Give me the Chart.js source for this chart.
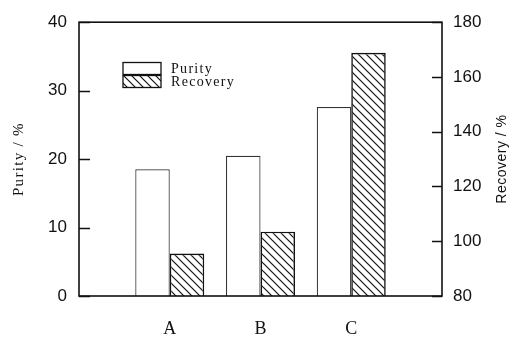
<!DOCTYPE html>
<html>
<head>
<meta charset="utf-8">
<script src="https://cdn.jsdelivr.net/npm/chart.js@4/dist/chart.umd.min.js"></script>
<style>
  html, body { margin: 0; padding: 0; background: #fff; }
  #wrap { width: 522px; height: 338px; }
</style>
</head>
<body>
<div id="wrap"><canvas id="c" width="522" height="338"></canvas></div>
<script>
// Samples and measured values
const categories = ['A', 'B', 'C'];
const purity = [18.5, 20.5, 27.6];      // Purity / %
const recovery = [95.5, 103.5, 168.8];  // Recovery / %
const purityTicks = [0, 10, 20, 30, 40];
const recoveryTicks = [80, 100, 120, 140, 160, 180];

const INK = '#111';
const SERIF = '"Liberation Serif", "Times New Roman", serif';
const SANS = '"Liberation Sans", Arial, sans-serif';

// one empty slot either side of the three groups
const labels = ['', ...categories, ''];
const pad = arr => [null, ...arr, null];

// diagonal "\" hatch fill
function hatch() {
  const s = 8;
  const c = document.createElement('canvas');
  c.width = s; c.height = s;
  const g = c.getContext('2d');
  g.fillStyle = '#fff';
  g.fillRect(0, 0, s, s);
  g.strokeStyle = INK;
  g.lineWidth = 1.2;
  g.beginPath();
  g.moveTo(-1, -1); g.lineTo(s + 1, s + 1);
  g.moveTo(-1, s - 1); g.lineTo(1, s + 1);
  g.moveTo(s - 1, -1); g.lineTo(s + 1, 1);
  g.stroke();
  return g.createPattern(c, 'repeat');
}
const hatchFill = hatch();

// axis title written bottom-to-top, centred on the scale
function verticalTitle(ctx, scale, x, spacing) {
  const t = scale.options.title;
  const y = (scale.top + scale.bottom) / 2;
  ctx.save();
  ctx.translate(x, y);
  ctx.rotate(-Math.PI / 2);
  ctx.letterSpacing = spacing;
  ctx.font = `${t.font.size}px ${t.font.family}`;
  ctx.fillStyle = t.color;
  ctx.textAlign = 'center';
  ctx.textBaseline = 'middle';
  ctx.fillText(t.text, 0, 0);
  ctx.restore();
}

// frame, inward tick marks, axis titles and inset legend
const framePlugin = {
  id: 'frame',
  afterDraw(chart) {
    const ctx = chart.ctx;
    const a = chart.chartArea;
    ctx.save();
    ctx.strokeStyle = INK;
    ctx.lineWidth = 1.6;
    ctx.strokeRect(a.left, a.top, a.right - a.left, a.bottom - a.top);

    ctx.lineWidth = 1.4;
    ctx.beginPath();
    const ys = chart.scales.y, yr = chart.scales.y1;
    ys.ticks.forEach(t => {
      const p = Math.round(ys.getPixelForValue(t.value)) + 0.5;
      ctx.moveTo(a.left, p); ctx.lineTo(a.left + 11, p);
    });
    yr.ticks.forEach(t => {
      const p = Math.round(yr.getPixelForValue(t.value)) + 0.5;
      ctx.moveTo(a.right, p); ctx.lineTo(a.right - 10, p);
    });
    ctx.stroke();
    ctx.restore();

    verticalTitle(ctx, ys, 19, '1.3px');
    verticalTitle(ctx, yr, 502, '0.5px');

    // legend
    ctx.save();
    const bx = 123, bw = 38, bh = 12;
    const rows = [62.5, 75.5];
    ctx.letterSpacing = '1.3px';
    ctx.font = `14px ${SERIF}`;
    ctx.textBaseline = 'middle';
    ctx.textAlign = 'left';
    chart.data.datasets.forEach((ds, i) => {
      const y = rows[i];
      ctx.fillStyle = ds.backgroundColor;
      ctx.fillRect(bx, y, bw, bh);
      ctx.strokeStyle = INK;
      ctx.lineWidth = 1.3;
      ctx.strokeRect(bx, y, bw, bh);
      ctx.fillStyle = INK;
      ctx.fillText(ds.label, 171, y + bh / 2 + 0.5);
    });
    ctx.restore();
  }
};

new Chart(document.getElementById('c'), {
  type: 'bar',
  data: {
    labels: labels,
    datasets: [
      {
        label: 'Purity',
        data: pad(purity),
        yAxisID: 'y',
        backgroundColor: '#ffffff',
        borderColor: '#333',
        borderWidth: 1.2
      },
      {
        label: 'Recovery',
        data: pad(recovery),
        yAxisID: 'y1',
        backgroundColor: hatchFill,
        borderColor: INK,
        borderWidth: 1.6
      }
    ]
  },
  options: {
    responsive: false,
    animation: false,
    devicePixelRatio: 1,
    layout: { padding: { top: 16, left: 0, right: 0, bottom: 0 } },
    datasets: { bar: { categoryPercentage: 0.76, barPercentage: 1.0 } },
    plugins: { legend: { display: false }, tooltip: { enabled: false } },
    scales: {
      x: {
        type: 'category',
        offset: false,
        grid: { display: false, drawTicks: false },
        border: { display: false },
        ticks: {
          color: INK,
          padding: 22,
          maxRotation: 0,
          autoSkip: false,
          font: { family: SERIF, size: 18 }
        },
        afterFit: s => { s.height = 42; }
      },
      y: {
        position: 'left',
        min: 0, max: 40,
        afterBuildTicks: s => { s.ticks = purityTicks.map(v => ({ value: v })); },
        grid: { display: false, drawTicks: false },
        border: { display: false },
        ticks: { color: INK, padding: 12, font: { family: SANS, size: 17 } },
        title: { display: false, text: 'Purity / %', color: INK, font: { family: SERIF, size: 15 } },
        afterFit: s => { s.width = 79; }
      },
      y1: {
        position: 'right',
        min: 80, max: 180,
        afterBuildTicks: s => { s.ticks = recoveryTicks.map(v => ({ value: v })); },
        grid: { display: false, drawTicks: false },
        border: { display: false },
        ticks: { color: INK, padding: 11, font: { family: SANS, size: 17 } },
        title: { display: false, text: 'Recovery / %', color: INK, font: { family: SANS, size: 14 } },
        afterFit: s => { s.width = 80; }
      }
    }
  },
  plugins: [framePlugin]
});
</script>
</body>
</html>
